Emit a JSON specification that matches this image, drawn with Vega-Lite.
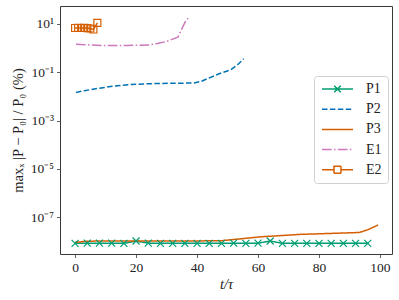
{
  "$schema": "https://vega.github.io/schema/vega-lite/v6.json",
  "width": 332,
  "height": 248,
  "autosize": {"type": "none"},
  "padding": {"left": 60, "top": 6, "right": 7, "bottom": 46},
  "config": {
    "view": {"stroke": "#3a3a3a", "strokeWidth": 1},
    "font": "Liberation Serif",
    "axis": {
      "grid": false,
      "domain": false,
      "tickColor": "#3a3a3a",
      "tickSize": 3.5,
      "tickWidth": 0.8,
      "labelFont": "Liberation Serif",
      "labelFontSize": 13.5,
      "labelColor": "#222",
      "titleFont": "Liberation Serif",
      "titleFontSize": 14.5,
      "titleFontWeight": "normal",
      "titleColor": "#222"
    }
  },
  "data": {
    "values": [
      {"s": "P1", "t": 0, "v": 8.2e-9}, {"s": "P1", "t": 4, "v": 8.3e-9}, {"s": "P1", "t": 8, "v": 8.3e-9}, {"s": "P1", "t": 12, "v": 8.3e-9}, {"s": "P1", "t": 16, "v": 8.2e-9}, {"s": "P1", "t": 20, "v": 1.02e-8}, {"s": "P1", "t": 24, "v": 8.3e-9}, {"s": "P1", "t": 28, "v": 8.2e-9}, {"s": "P1", "t": 32, "v": 8.2e-9}, {"s": "P1", "t": 36, "v": 8.2e-9}, {"s": "P1", "t": 40, "v": 8.2e-9}, {"s": "P1", "t": 44, "v": 8.2e-9}, {"s": "P1", "t": 48, "v": 8.2e-9}, {"s": "P1", "t": 52, "v": 8.3e-9}, {"s": "P1", "t": 56, "v": 8.2e-9}, {"s": "P1", "t": 60, "v": 8.3e-9}, {"s": "P1", "t": 64, "v": 1.02e-8}, {"s": "P1", "t": 68, "v": 8.2e-9}, {"s": "P1", "t": 72, "v": 8.2e-9}, {"s": "P1", "t": 76, "v": 8.2e-9}, {"s": "P1", "t": 80, "v": 8.2e-9}, {"s": "P1", "t": 84, "v": 8.2e-9}, {"s": "P1", "t": 88, "v": 8.2e-9}, {"s": "P1", "t": 92, "v": 8.2e-9}, {"s": "P1", "t": 96, "v": 8.2e-9},
      {"s": "P2", "t": 0.3, "v": 0.0146}, {"s": "P2", "t": 3, "v": 0.0172}, {"s": "P2", "t": 6.3, "v": 0.0202}, {"s": "P2", "t": 11, "v": 0.025}, {"s": "P2", "t": 17.3, "v": 0.0304}, {"s": "P2", "t": 23, "v": 0.033}, {"s": "P2", "t": 28.2, "v": 0.0344}, {"s": "P2", "t": 34, "v": 0.0352}, {"s": "P2", "t": 39.1, "v": 0.0358}, {"s": "P2", "t": 41.3, "v": 0.0417}, {"s": "P2", "t": 45.7, "v": 0.0716}, {"s": "P2", "t": 47.9, "v": 0.093}, {"s": "P2", "t": 51.1, "v": 0.127}, {"s": "P2", "t": 53.3, "v": 0.204}, {"s": "P2", "t": 55.3, "v": 0.36},
      {"s": "P3", "t": 0, "v": 9.0e-9}, {"s": "P3", "t": 4, "v": 1.0e-8}, {"s": "P3", "t": 10, "v": 1.03e-8}, {"s": "P3", "t": 20, "v": 1.03e-8}, {"s": "P3", "t": 30, "v": 1.02e-8}, {"s": "P3", "t": 40, "v": 1.03e-8}, {"s": "P3", "t": 47.9, "v": 1.05e-8}, {"s": "P3", "t": 52, "v": 1.18e-8}, {"s": "P3", "t": 56, "v": 1.32e-8}, {"s": "P3", "t": 61, "v": 1.53e-8}, {"s": "P3", "t": 68, "v": 1.73e-8}, {"s": "P3", "t": 74.1, "v": 1.93e-8}, {"s": "P3", "t": 80, "v": 2.03e-8}, {"s": "P3", "t": 86, "v": 2.15e-8}, {"s": "P3", "t": 93.2, "v": 2.3e-8}, {"s": "P3", "t": 96, "v": 3.0e-8}, {"s": "P3", "t": 99.4, "v": 4.7e-8},
      {"s": "E1", "t": 0.3, "v": 1.45}, {"s": "E1", "t": 5, "v": 1.35}, {"s": "E1", "t": 10.2, "v": 1.27}, {"s": "E1", "t": 17, "v": 1.29}, {"s": "E1", "t": 24.4, "v": 1.36}, {"s": "E1", "t": 27, "v": 1.55}, {"s": "E1", "t": 29.8, "v": 1.86}, {"s": "E1", "t": 33.7, "v": 2.82}, {"s": "E1", "t": 36.4, "v": 14.6}, {"s": "E1", "t": 37.1, "v": 17},
      {"s": "E2", "t": 0, "v": 6.8}, {"s": "E2", "t": 1, "v": 6.9}, {"s": "E2", "t": 2, "v": 6.8}, {"s": "E2", "t": 3, "v": 6.9}, {"s": "E2", "t": 4, "v": 6.7}, {"s": "E2", "t": 5, "v": 6.5}, {"s": "E2", "t": 6, "v": 5.9}, {"s": "E2", "t": 7.3, "v": 11}
    ]
  },
  "encoding": {
    "x": {
      "field": "t", "type": "quantitative",
      "scale": {"domain": [-4.95, 103.95], "nice": false, "zero": false},
      "axis": {"values": [0, 20, 40, 60, 80, 100], "title": "t/τ", "titleFontStyle": "italic", "titlePadding": 3, "labelPadding": 3}
    },
    "y": {
      "field": "v", "type": "quantitative",
      "scale": {"type": "log", "domain": [2.96e-9, 55.5], "nice": false},
      "axis": {
        "values": [10, 0.1, 0.001, 0.00001, 1e-7],
        "labelExpr": "datum.value > 1 ? '10¹' : datum.value > 0.01 ? '10⁻¹' : datum.value > 0.0001 ? '10⁻³' : datum.value > 1e-6 ? '10⁻⁵' : '10⁻⁷'",
        "title": "maxₓ |P − P₀| / P₀ (%)",
        "titlePadding": 5,
        "labelPadding": 3
      }
    }
  },
  "layer": [
    {
      "mark": {"type": "line", "strokeWidth": 1.5, "clip": true},
      "encoding": {
        "color": {
          "field": "s", "type": "nominal",
          "scale": {"domain": ["P1", "P2", "P3", "E1", "E2"], "range": ["#029e73", "#0173b2", "#d55e00", "#cc78bc", "#d55e00"]},
          "legend": {
            "title": null,
            "orient": "none",
            "legendX": 254,
            "legendY": 70,
            "symbolSize": 100,
            "symbolStrokeWidth": 1.5,
            "labelOffset": 32,
            "labelFontSize": 14,
            "labelFont": "Liberation Serif",
            "labelColor": "#222",
            "rowPadding": 6.2,
            "padding": 6,
            "strokeColor": "#d0d0d0",
            "fillColor": "rgba(255,255,255,0.85)",
            "cornerRadius": 3,
            "encode": {
              "symbols": {
                "update": {
                  "shape": {"signal": "datum.value === 'P1' ? 'M-1,0L5.2,0M1.45,-0.65L2.75,0.65M1.45,0.65L2.75,-0.65' : datum.value === 'E2' ? 'M-1,0L1.4,0M2.8,0L5.2,0M1.4,-0.7H2.8V0.7H1.4Z' : 'M-1,0L5.2,0'"},
                  "fill": {"value": "transparent"}
                }
              }
            }
          }
        },
        "strokeDash": {
          "field": "s", "type": "nominal",
          "scale": {"domain": ["P1", "P2", "P3", "E1", "E2"], "range": [[1, 0], [5.5, 2.4], [1, 0], [9.6, 2.4, 1.5, 2.4], [1, 0]]},
          "legend": null
        }
      }
    },
    {
      "transform": [{"filter": "datum.s === 'P1'"}],
      "mark": {"type": "point", "shape": "M-1,-1L1,1M-1,1L1,-1", "size": 49, "filled": false, "strokeWidth": 1.2, "color": "#029e73", "opacity": 1}
    },
    {
      "transform": [{"filter": "datum.s === 'E2'"}],
      "mark": {"type": "point", "shape": "square", "size": 49, "filled": false, "strokeWidth": 1.2, "color": "#d55e00", "opacity": 1}
    }
  ]
}
